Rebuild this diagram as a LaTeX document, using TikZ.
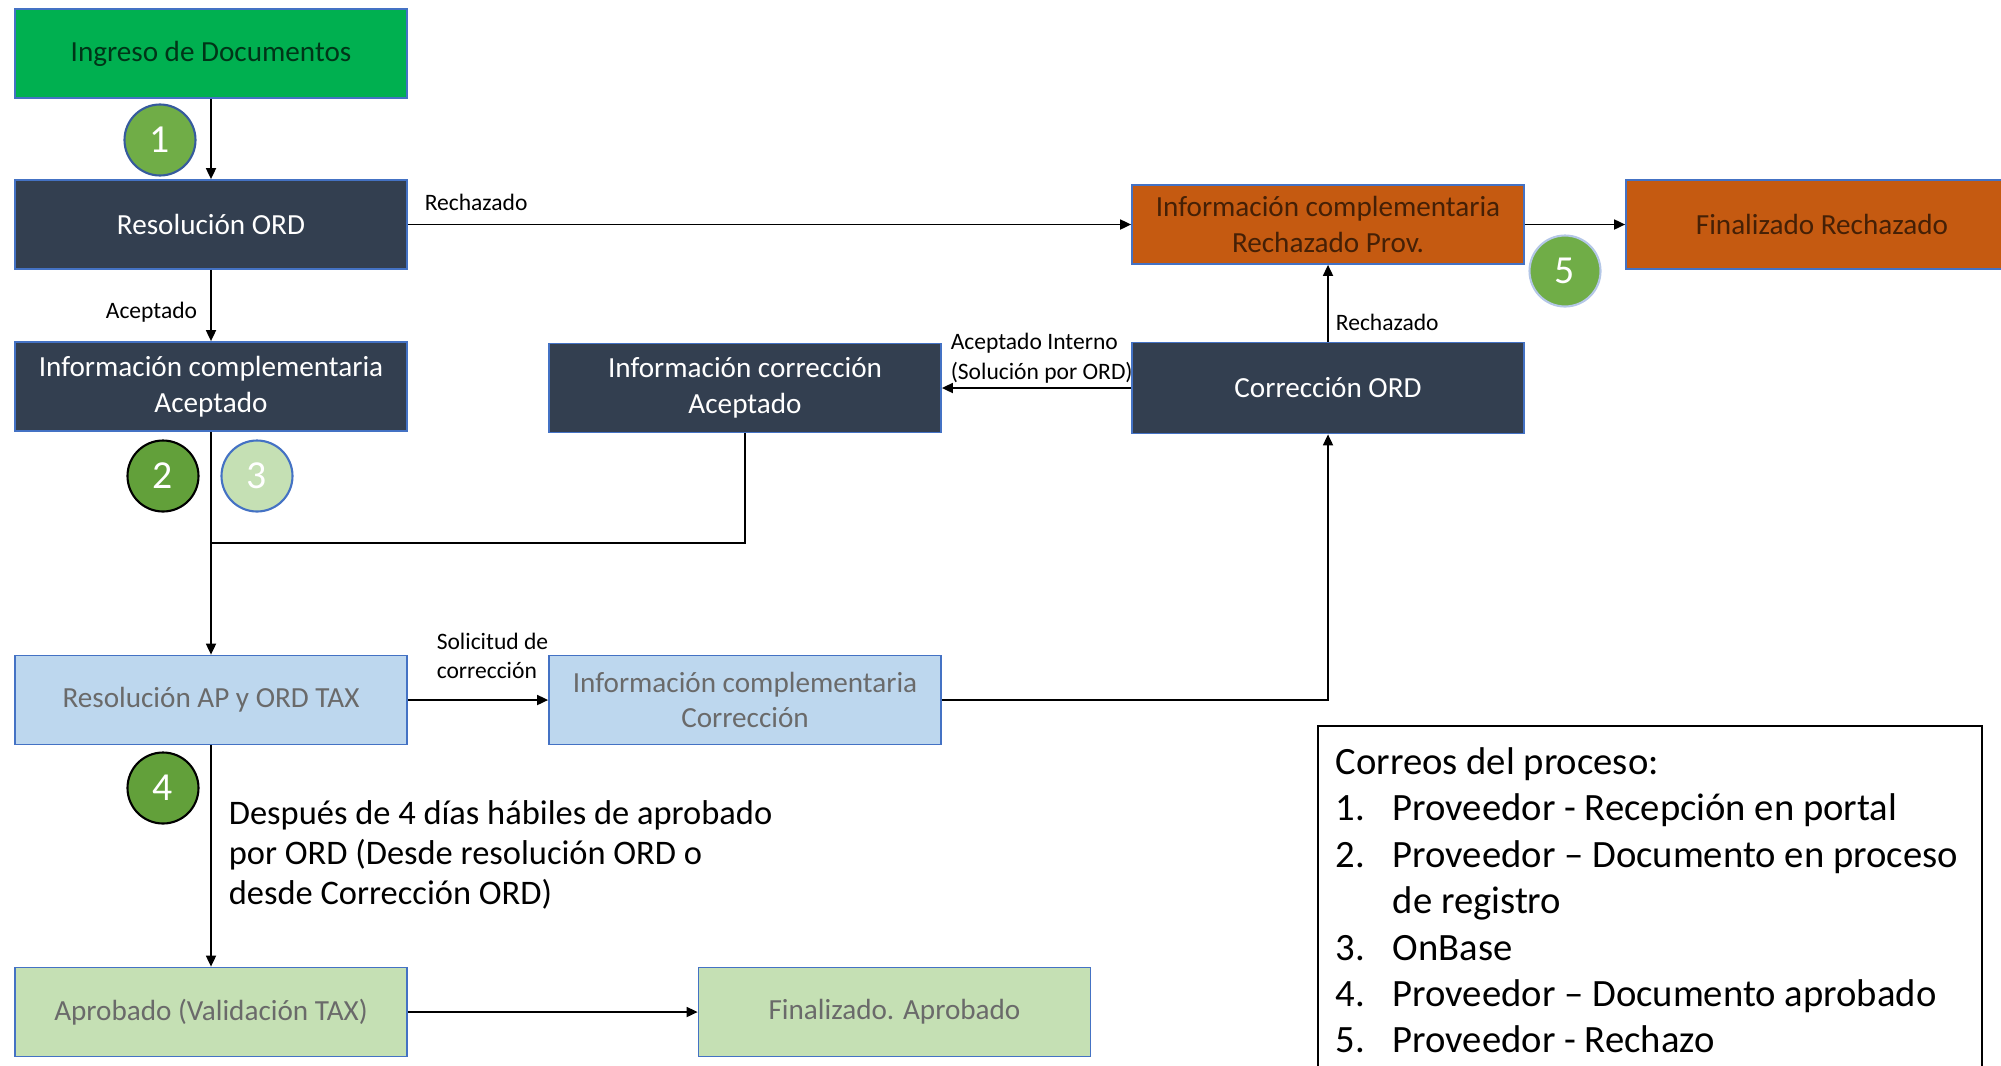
\documentclass[tikz,border=0pt]{standalone}
\usepackage{fontspec}
\setmainfont{Carlito}
\usetikzlibrary{arrows.meta}
\definecolor{verde}{HTML}{00B050}
\definecolor{marino}{HTML}{333F50}
\definecolor{naranja}{HTML}{C55A11}
\definecolor{celeste}{HTML}{BDD7EE}
\definecolor{verdeclaro}{HTML}{C5E0B4}
\definecolor{verdemedio}{HTML}{70AD47}
\definecolor{verdeoscuro}{HTML}{62A03A}
\definecolor{borde}{HTML}{4472C4}
\definecolor{gris}{HTML}{6A6A6A}
\tikzset{
	caja/.style={rectangle, draw=borde, line width=0.5pt, minimum width=3.92cm, minimum height=0.89cm, align=center, inner sep=0pt, font=\fontsize{8.3}{10.2}\selectfont},
	numero/.style={circle, minimum size=0.71cm, inner sep=0pt, text=white, line width=0.6pt, font=\fontsize{11.3}{13}\selectfont},
	flecha/.style={-{Triangle[length=1.1mm,width=1mm]}, line width=0.5pt},
	etiqueta/.style={font=\fontsize{6.7}{8.5}\selectfont, align=left, inner sep=0pt},
}

\begin{document}
\begin{tikzpicture}
			%%%%% START %%%%%
			\useasboundingbox (0, 0) rectangle (20.01, -10.65);
			\clip (0, 0) rectangle (20.01, -10.65);
			
			\node[caja, fill=verde, text=black!70!verde] (ingreso) at (2.11, -0.535) {Ingreso de Documentos};
			\node[caja, fill=marino, text=white] (resord) at (2.11, -2.245) {Resolución ORD};
			\node[caja, fill=marino, text=white] (infoacep) at (2.11, -3.865) {Información complementaria\\Aceptado};
			\node[caja, fill=marino, text=white] (infocorr) at (7.45, -3.88) {Información corrección\\Aceptado};
			\node[caja, fill=marino, text=white, minimum height=0.91cm] (corrord) at (13.28, -3.88) {Corrección ORD};
			\node[caja, fill=naranja, text=black!65!naranja, minimum height=0.79cm] (inforech) at (13.28, -2.245) {Información complementaria\\Rechazado Prov.};
			\node[caja, fill=naranja, text=black!65!naranja] (finrech) at (18.22, -2.245) {Finalizado Rechazado};
			\node[caja, fill=celeste, text=gris] (resap) at (2.11, -7.00) {Resolución AP y ORD TAX};
			\node[caja, fill=celeste, text=gris] (infocc) at (7.45, -7.00) {Información complementaria\\Corrección};
			\node[caja, fill=verdeclaro, text=gris] (aprob) at (2.11, -10.12) {Aprobado (Validación TAX)};
			\node[caja, fill=verdeclaro, text=gris] (finaprob) at (8.945, -10.12) {Finalizado. Aprobado};
			
			\node[numero, fill=verdemedio, draw=borde!80!black] (n1) at (1.60, -1.40) {1};
			\node[numero, fill=verdeoscuro, draw=black] (n2) at (1.63, -4.76) {2};
			\node[numero, fill=verdeclaro, draw=borde] (n3) at (2.57, -4.76) {3};
			\node[numero, fill=verdeoscuro, draw=black] (n4) at (1.63, -7.88) {4};
			\node[numero, fill=verdemedio, draw=borde!40] (n5) at (15.65, -2.71) {5};
			
			\draw[flecha] (ingreso) -- (resord);
			\draw[flecha] (resord) -- node[etiqueta, pos=0, anchor=south west, xshift=0.16cm, yshift=0.13cm] {Rechazado} (inforech);
			\draw[flecha] (resord) -- node[etiqueta, pos=0.6, anchor=east, xshift=-0.13cm] {Aceptado} (infoacep);
			\draw[flecha] (inforech) -- (finrech);
			\draw[flecha] (corrord) -- node[etiqueta, pos=0.25, anchor=west, xshift=0.07cm] {Rechazado} (inforech);
			\draw[flecha] (corrord) -- node[etiqueta, pos=1, anchor=south west, xshift=0.08cm, yshift=0.04cm] {Aceptado Interno\\(Solución por ORD)} (infocorr);
			
			\coordinate (union) at (2.11, -5.43);
			\draw[flecha] (infoacep) -- (resap);
			\draw (infocorr) |- (union);
			
			\draw[flecha] (resap) -- node[etiqueta, pos=0, anchor=south west, xshift=0.28cm, yshift=0.2cm] {Solicitud de\\corrección} (infocc);
			\draw[flecha] (infocc) -| (corrord);
			\draw[flecha] (resap) -- node[pos=0.245, anchor=north west, xshift=0.17cm, align=left, inner sep=0pt, font=\fontsize{9.8}{11.4}\selectfont] {Después de 4 días hábiles de aprobado\\por ORD (Desde resolución ORD o\\desde Corrección ORD)} (aprob);
			\draw[flecha] (aprob) -- (finaprob);
			
			\draw[line width=0.8pt] (13.18, -7.26) rectangle (19.82, -11.2);
			\node[anchor=north west, align=left, inner sep=0pt, font=\fontsize{11}{13.2}\selectfont] (correos) at (13.35, -7.47) {Correos del proceso:\\
				\makebox[0.57cm][l]{1.}Proveedor - Recepción en portal\\
				\makebox[0.57cm][l]{2.}Proveedor – Documento en proceso\\
				\hspace*{0.57cm}de registro\\
				\makebox[0.57cm][l]{3.}OnBase\\
				\makebox[0.57cm][l]{4.}Proveedor – Documento aprobado\\
				\makebox[0.57cm][l]{5.}Proveedor - Rechazo};
			%%%%% END %%%%%
\end{tikzpicture}
\end{document}
